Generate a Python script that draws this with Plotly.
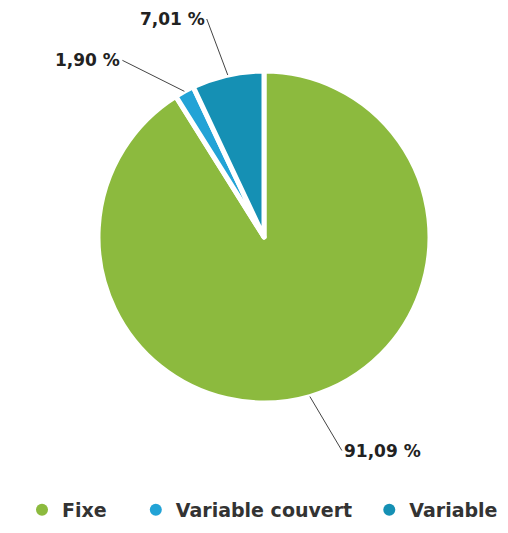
import math
import plotly.graph_objects as go

categories = ["Fixe", "Variable couvert", "Variable"]
values = [91.09, 1.90, 7.01]
colors = ["#8cba3e", "#22a3d6", "#1590b4"]
label_texts = ["91,09 %", "1,90 %", "7,01 %"]
# label placement relative to slice edge (style): tail offset px, text anchor
label_offsets = [(32, 54, "left"), (-62, -31, "right"), (-21, -56, "right")]
legend_pad = [4, 2, 0]  # extra spaces after legend names (spacing)

W, H = 508, 533
OFF = 8  # page body margin
cx, cy, r = 264 - OFF, 237 - OFF, 166  # pie centre/radius in px (layout)

fig = go.Figure()
fig.add_trace(go.Pie(
    labels=categories, values=values, sort=False, direction="clockwise", rotation=0,
    marker=dict(colors=colors, line=dict(color="white", width=5)),
    textinfo="none", hoverinfo="label+percent", showlegend=False,
    domain=dict(x=[(cx - r) / W, (cx + r) / W], y=[1 - (cy + r) / H, 1 - (cy - r) / H]),
))

# legend entries with circle markers
for name, col, pad in zip(categories, colors, legend_pad):
    fig.add_trace(go.Scatter(x=[None], y=[None], mode="markers",
                             name=f"<b>{name}</b>" + "&nbsp;" * pad,
                             marker=dict(symbol="circle", size=15, color=col)))

total = sum(values)
cum = 0.0
for v, txt, (ax, ay, anc) in zip(values, label_texts, label_offsets):
    mid = (cum + v / 2) / total * 2 * math.pi
    cum += v
    px = cx + r * math.sin(mid)
    py = cy - r * math.cos(mid)
    fig.add_annotation(x=px / W, y=1 - py / H, xref="paper", yref="paper",
                       text=f"<b>{txt}</b>", showarrow=True, arrowhead=0,
                       arrowwidth=1, arrowcolor="#444444", ax=ax, ay=ay,
                       xanchor=anc, yanchor="middle",
                       font=dict(family="DejaVu Sans", size=17, color="#222222"))

fig.update_layout(
    width=W, height=H, margin=dict(l=0, r=0, t=0, b=0),
    paper_bgcolor="white", plot_bgcolor="white",
    xaxis=dict(visible=False), yaxis=dict(visible=False),
    font=dict(family="DejaVu Sans"),
    legend=dict(orientation="h", x=(22 - OFF) / W, xanchor="left",
                y=1 - (510 - OFF) / H, yanchor="middle",
                font=dict(family="DejaVu Sans", size=19, color="#333333"),
                itemsizing="constant", traceorder="normal"),
)

fig.write_html("out.html")
